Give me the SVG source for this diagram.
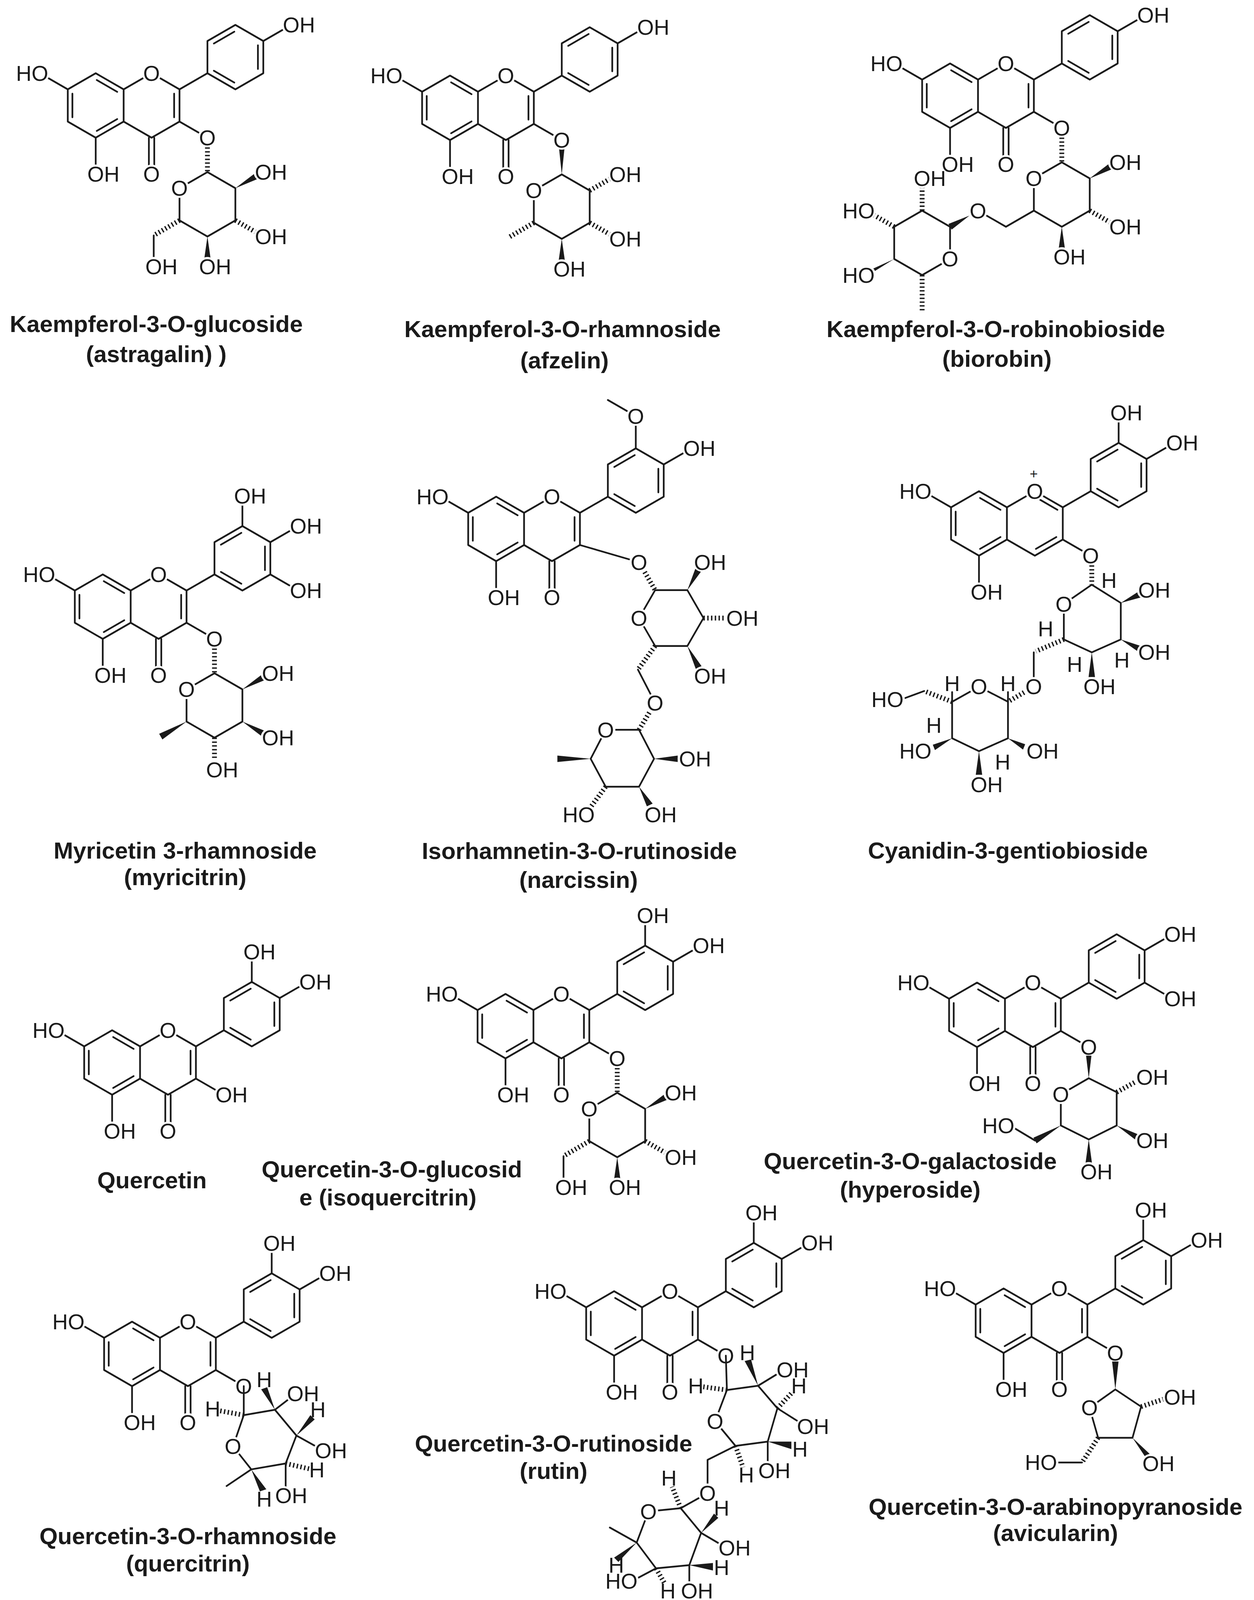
<svg xmlns="http://www.w3.org/2000/svg" xmlns:xlink="http://www.w3.org/1999/xlink" width="3210" height="4138" viewBox="0 0 3210 4138">
<style>
.b{fill:none;stroke:#1a1a1a;stroke-width:1.6;stroke-linecap:round;stroke-linejoin:round}
.h{fill:none;stroke:#1a1a1a;stroke-width:4.5;stroke-dasharray:1.3 2.2}
.w{fill:#1a1a1a}
.bg{fill:#fff}
.a{font-family:"Liberation Sans",Arial,sans-serif;font-size:20px;fill:#1a1a1a}
.m{text-anchor:middle}
.e{text-anchor:end}
.L{font-family:"Liberation Sans",Arial,sans-serif;font-size:60px;font-weight:bold;fill:#1a1a1a;text-anchor:middle}
</style>
<defs>
<g id="ringA">
<path class="b" d="M0,-30 L26,-15 L26,15 L0,30 L-26,15 L-26,-15 Z M-21.7,-11 V11 M1,-23.7 L20,-12.7 M20,12.7 L1,23.7"/>
<path class="b" d="M78,-15 L104,-30 M130,-75 L156,-60 L156,-30 L130,-15 L104,-30 L104,-60 Z M151,-56 V-34 M110,-57.7 L129,-68.7 M110,-32.3 L129,-21.3"/>
</g>
<g id="core">
<use xlink:href="#ringA" href="#ringA"/>
<path class="b" d="M26,-15 L52,-30 L78,-15 L78,15 L52,30 L26,15 M73,-11 V11 M49.5,30 V56 M54.5,30 V56"/>
<circle class="bg" cx="52" cy="-30" r="9"/><circle class="bg" cx="52" cy="64" r="9"/>
</g>
<g id="coreC">
<use xlink:href="#ringA" href="#ringA"/>
<path class="b" d="M26,-15 L52,-30 L78,-15 L78,15 L52,30 L26,15 M57,-22 L73,-12.7 M72,12.7 L53,23.7"/>
<circle class="bg" cx="52" cy="-30" r="9"/>
</g>
<g id="subs">
<path class="b" d="M-26,-15 L-52,-30 M0,30 V64 M156,-60 L182,-75 M78,15 L104,30"/>
<g class="bg"><circle cx="-52" cy="-30" r="9"/><circle cx="0" cy="64" r="9"/><circle cx="182" cy="-75" r="9"/><circle cx="104" cy="30" r="9"/></g>
</g>
<g id="q3">
<path class="b" d="M130,-75 V-103"/><circle class="bg" cx="130" cy="-103" r="9"/>
</g>
<g id="glc">
<path class="b" d="M104,62 L130,77 L130,107 L104,122 L78,107 L78,77 Z M54,121 V142"/>
<path class="h" d="M104,39 V62 M130,107 L150,118.5 M78,107 L54,121"/>
<polygon class="w" points="130,77 151.5,68.1 148.5,62.9"/>
<polygon class="w" points="104,122 107,143 101,143"/>
<g class="bg"><circle cx="78" cy="77" r="9"/><circle cx="156" cy="62" r="9"/><circle cx="156" cy="122" r="9"/><circle cx="104" cy="150" r="9"/><circle cx="54" cy="150" r="9"/></g>
</g>
</defs>

<g id="m1" transform="translate(245,270) scale(2.75)">
<use href="#core"/><use href="#subs"/><use href="#glc"/>
<text class="a m" x="52" y="-23">O</text><text class="a m" x="52" y="71">O</text>
<text class="a e" x="-44.2" y="-23">HO</text><text class="a" x="-7.8" y="71">OH</text>
<text class="a" x="174.2" y="-68">OH</text><text class="a m" x="104" y="37">O</text>
<text class="a m" x="78" y="84">O</text><text class="a" x="148.2" y="69">OH</text><text class="a" x="148.2" y="129">OH</text>
<text class="a" x="96.2" y="157">OH</text><text class="a" x="46.2" y="157">OH</text>
</g>

<g id="m2" transform="translate(1152,276) scale(2.75)">
<use href="#core"/><use href="#subs"/>
<path class="b" d="M104,62 L130,77 L130,107 L104,122 L78,107 L78,77 Z"/>
<path class="h" d="M130,77 L150,65.5 M130,107 L150,118.5 M78,107 L54,121"/>
<polygon class="w" points="104,62 101.5,38 106.5,38"/>
<polygon class="w" points="104,122 107,143 101,143"/>
<g class="bg"><circle cx="78" cy="77" r="9"/><circle cx="156" cy="62" r="9"/><circle cx="156" cy="122" r="9"/><circle cx="104" cy="150" r="9"/><circle cx="104" cy="30" r="9"/></g>
<text class="a m" x="52" y="-23">O</text><text class="a m" x="52" y="71">O</text>
<text class="a e" x="-44.2" y="-23">HO</text><text class="a" x="-7.8" y="71">OH</text>
<text class="a" x="174.2" y="-68">OH</text><text class="a m" x="104" y="37">O</text>
<text class="a m" x="78" y="84">O</text><text class="a" x="148.2" y="69">OH</text><text class="a" x="148.2" y="129">OH</text>
<text class="a" x="96.2" y="157">OH</text>
</g>

<g id="m3" transform="translate(2432,245) scale(2.75)">
<use href="#core"/><use href="#subs"/>
<path class="b" d="M104,62 L130,77 L130,107 L104,122 L78,107 L78,77 Z M78,107 L52,122 L26,107"/>
<path class="h" d="M104,39 V62 M130,107 L150,118.5"/>
<polygon class="w" points="130,77 151.5,68.1 148.5,62.9"/>
<polygon class="w" points="104,122 107,143 101,143"/>
<polygon class="w" points="18,111.6 1.5,124.6 -1.5,119.4"/>
<path class="b" d="M0,122 L0,152 L-26,167 L-52,152 L-52,122 L-26,107 Z"/>
<path class="h" d="M-26,107 V84 M-52,122 L-72,110.5 M-26,167 V200"/>
<polygon class="w" points="-52,152 -72.5,161.4 -75.5,166.6"/>
<g class="bg"><circle cx="78" cy="77" r="9"/><circle cx="156" cy="62" r="9"/><circle cx="156" cy="122" r="9"/><circle cx="104" cy="150" r="9"/><circle cx="26" cy="107" r="9"/><circle cx="0" cy="152" r="9"/><circle cx="-26" cy="77" r="9"/><circle cx="-78" cy="107" r="9"/><circle cx="-78" cy="167" r="9"/></g>
<text class="a m" x="52" y="-23">O</text><text class="a m" x="52" y="71">O</text>
<text class="a e" x="-44.2" y="-23">HO</text><text class="a" x="-7.8" y="71">OH</text>
<text class="a" x="174.2" y="-68">OH</text><text class="a m" x="104" y="37">O</text>
<text class="a m" x="78" y="84">O</text><text class="a" x="148.2" y="69">OH</text><text class="a" x="148.2" y="129">OH</text>
<text class="a" x="96.2" y="157">OH</text><text class="a m" x="26" y="114">O</text><text class="a m" x="0" y="159">O</text>
<text class="a" x="-33.8" y="84">OH</text><text class="a e" x="-70.2" y="114">HO</text><text class="a e" x="-70.2" y="174">HO</text>
</g>

<g id="m4" transform="translate(263,1553) scale(2.75)">
<use href="#core"/><use href="#subs"/><use href="#q3"/>
<path class="b" d="M156,-30 L182,-15 M104,62 L130,77 L130,107 L104,122 L78,107 L78,77 Z"/>
<path class="h" d="M104,39 V62 M104,122 V143"/>
<polygon class="w" points="130,77 151.5,68.1 148.5,62.9"/>
<polygon class="w" points="130,107 148.5,121.1 151.5,115.9"/>
<polygon class="w" points="78,107 52.5,118.4 55.5,123.6"/>
<g class="bg"><circle cx="182" cy="-15" r="9"/><circle cx="78" cy="77" r="9"/><circle cx="156" cy="62" r="9"/><circle cx="156" cy="122" r="9"/><circle cx="104" cy="152" r="9"/></g>
<text class="a m" x="52" y="-23">O</text><text class="a m" x="52" y="71">O</text>
<text class="a e" x="-44.2" y="-23">HO</text><text class="a" x="-7.8" y="71">OH</text>
<text class="a" x="174.2" y="-68">OH</text><text class="a" x="122.2" y="-96">OH</text><text class="a" x="174.2" y="-8">OH</text>
<text class="a m" x="104" y="37">O</text>
<text class="a m" x="78" y="84">O</text><text class="a" x="148.2" y="69">OH</text><text class="a" x="148.2" y="129">OH</text>
<text class="a" x="96.2" y="159">OH</text>
</g>

<g id="m5" transform="translate(1270,1354) scale(2.75)">
<use href="#core"/>
<path class="b" d="M-26,-15 L-52,-30 M0,30 V64 M156,-60 L182,-75 M78,15 L133,31 M130,-75 V-105 L104,-120"/>
<path class="b" d="M148,57 L178,57 L193,83 L178,109 L148,109 L133,83 Z M132,131 L148,162"/>
<path class="h" d="M133,31 L148,57 M193,83 L213,83 M148,109 L132,131 M148,162 L133,187"/>
<polygon class="w" points="178,57 190.6,39.9 185.4,37.1"/>
<polygon class="w" points="178,109 185.8,130.3 191.2,127.7"/>
<path class="b" d="M133,187 L102,187 L88,214 L102,240 L133,240 L147,214 Z"/>
<path class="h" d="M102,240 L88,259"/>
<polygon class="w" points="88,214 57,211 57,217"/>
<polygon class="w" points="133,240 140.3,258.3 145.7,255.7"/>
<polygon class="w" points="147,214 169,211 169,217"/>
<g class="bg"><circle cx="-52" cy="-30" r="9"/><circle cx="0" cy="64" r="9"/><circle cx="182" cy="-75" r="9"/><circle cx="130" cy="-105" r="9"/><circle cx="133" cy="31" r="9"/><circle cx="133" cy="83" r="9"/><circle cx="192" cy="31" r="9"/><circle cx="222" cy="83" r="9"/><circle cx="192" cy="137" r="9"/><circle cx="148" cy="162" r="9"/><circle cx="102" cy="187" r="9"/><circle cx="84" cy="266" r="9"/><circle cx="146" cy="266" r="9"/><circle cx="178" cy="214" r="9"/></g>
<text class="a m" x="52" y="-23">O</text><text class="a m" x="52" y="71">O</text>
<text class="a e" x="-44.2" y="-23">HO</text><text class="a" x="-7.8" y="71">OH</text>
<text class="a" x="174.2" y="-68">OH</text><text class="a m" x="130" y="-98">O</text>
<text class="a m" x="133" y="38">O</text><text class="a m" x="133" y="90">O</text>
<text class="a" x="184.2" y="38">OH</text><text class="a" x="214.2" y="90">OH</text><text class="a" x="184.2" y="144">OH</text>
<text class="a m" x="148" y="169">O</text><text class="a m" x="102" y="194">O</text>
<text class="a e" x="91.8" y="273">HO</text><text class="a" x="138.2" y="273">OH</text><text class="a" x="170.2" y="221">OH</text>
</g>

<g id="m6" transform="translate(2506,1340) scale(2.75)">
<use href="#coreC"/><use href="#subs"/><use href="#q3"/>
<path class="b" d="M105,57 L132,74 L132,108 L105,120 L79,108 L79,75 Z M51,120 V152 M27,166 L0,152 L-25,166 L-25,200 L0,212 L27,200 Z M27,166 V157 M-25,166 V157 M-51,156 L-70,163"/>
<path class="h" d="M105,39 V57 M79,108 L53,119 M51,152 L27,166 M-25,166 L-51,156"/>
<polygon class="w" points="132,74 148.5,63.4 151.5,68.6"/>
<polygon class="w" points="132,108 148.5,119.6 151.5,114.4"/>
<polygon class="w" points="105,120 102,143 108,143"/>
<polygon class="w" points="-25,200 -43,206 -41,211"/>
<polygon class="w" points="0,212 -3,234 3,234"/>
<polygon class="w" points="27,200 43,205.5 41,210.5"/>
<g class="bg"><circle cx="79" cy="75" r="9"/><circle cx="156" cy="62" r="9"/><circle cx="156" cy="120" r="9"/><circle cx="105" cy="152" r="9"/><circle cx="51" cy="152" r="9"/><circle cx="0" cy="152" r="9"/><circle cx="-78" cy="164" r="9"/><circle cx="-52" cy="212" r="9"/><circle cx="0" cy="243" r="9"/><circle cx="52" cy="212" r="9"/></g>
<text class="a m" x="52" y="-23">O</text><text class="a m" x="51" y="-42" style="font-size:13px">+</text>
<text class="a e" x="-44.2" y="-23">HO</text><text class="a" x="-7.8" y="71">OH</text>
<text class="a" x="174.2" y="-68">OH</text><text class="a" x="122.2" y="-96">OH</text><text class="a m" x="104" y="37">O</text>
<text class="a m" x="79" y="82">O</text><text class="a m" x="121" y="60">H</text>
<text class="a" x="148.2" y="69">OH</text><text class="a" x="148.2" y="127">OH</text><text class="a m" x="133" y="134">H</text>
<text class="a" x="97.2" y="159">OH</text><text class="a m" x="89" y="138">H</text><text class="a m" x="62" y="105">H</text>
<text class="a m" x="51" y="159">O</text><text class="a m" x="0" y="159">O</text>
<text class="a m" x="27" y="156">H</text><text class="a m" x="-25" y="156">H</text>
<text class="a e" x="-70.2" y="171">HO</text><text class="a m" x="-42" y="195">H</text>
<text class="a e" x="-44.2" y="219">HO</text><text class="a" x="-7.8" y="250">OH</text><text class="a m" x="22" y="229">H</text>
<text class="a" x="44.2" y="219">OH</text>
</g>

<g id="m7" transform="translate(287,2720) scale(2.75)">
<use href="#core"/><use href="#subs"/><use href="#q3"/>
<text class="a m" x="52" y="-23">O</text><text class="a m" x="52" y="71">O</text>
<text class="a e" x="-44.2" y="-23">HO</text><text class="a" x="-7.8" y="71">OH</text>
<text class="a" x="174.2" y="-68">OH</text><text class="a" x="122.2" y="-96">OH</text>
<text class="a" x="96.2" y="37">OH</text>
</g>

<g id="m8" transform="translate(1294,2627) scale(2.75)">
<use href="#core"/><use href="#subs"/><use href="#q3"/><use href="#glc"/>
<text class="a m" x="52" y="-23">O</text><text class="a m" x="52" y="71">O</text>
<text class="a e" x="-44.2" y="-23">HO</text><text class="a" x="-7.8" y="71">OH</text>
<text class="a" x="174.2" y="-68">OH</text><text class="a" x="122.2" y="-96">OH</text><text class="a m" x="104" y="37">O</text>
<text class="a m" x="78" y="84">O</text><text class="a" x="148.2" y="69">OH</text><text class="a" x="148.2" y="129">OH</text>
<text class="a" x="96.2" y="157">OH</text><text class="a" x="46.2" y="157">OH</text>
</g>

<g id="m9" transform="translate(2501,2598) scale(2.75)">
<use href="#core"/><use href="#subs"/>
<path class="b" d="M156,-30 L182,-15 M104,59 L130,72 L130,103 L104,116 L78,103 L78,74 Z M54,117 L34,105"/>
<path class="h" d="M130,72 L150,61"/>
<polygon class="w" points="104,59 101.5,38 106.5,38"/>
<polygon class="w" points="130,103 148.5,117.1 151.5,111.9"/>
<polygon class="w" points="104,116 107,138 101,138"/>
<polygon class="w" points="78,103 52.5,114.4 55.5,119.6"/>
<g class="bg"><circle cx="182" cy="-15" r="9"/><circle cx="78" cy="74" r="9"/><circle cx="156" cy="58" r="9"/><circle cx="156" cy="117" r="9"/><circle cx="104" cy="146" r="9"/><circle cx="27" cy="103" r="9"/></g>
<text class="a m" x="52" y="-23">O</text><text class="a m" x="52" y="71">O</text>
<text class="a e" x="-44.2" y="-23">HO</text><text class="a" x="-7.8" y="71">OH</text>
<text class="a" x="174.2" y="-68">OH</text><text class="a" x="174.2" y="-8">OH</text><text class="a m" x="104" y="37">O</text>
<text class="a m" x="78" y="81">O</text><text class="a" x="148.2" y="65">OH</text><text class="a" x="148.2" y="124">OH</text>
<text class="a" x="96.2" y="153">OH</text><text class="a e" x="34.8" y="110">HO</text>
</g>

<g id="m10" transform="translate(338,3466) scale(2.75)">
<use href="#core"/><use href="#subs"/><use href="#q3"/>
<path class="b" d="M104,30 V57 M104,57 L133,52 L153,76 L143,102 L111,107.5 L94,86 Z M133,52 L146,42 M153,76 L171,86 M143,102 V124 M111,107.5 L88,123"/>
<path class="h" d="M104,57 L82,53 M143,102 L165,107"/>
<polygon class="w" points="133,52 125.8,31 120.2,33"/>
<polygon class="w" points="153,76 166,57 170,61"/>
<polygon class="w" points="111,107.5 119,128 125,126"/>
<g class="bg"><circle cx="94" cy="86" r="9"/><circle cx="152" cy="37" r="9"/><circle cx="178" cy="90" r="9"/><circle cx="141" cy="132" r="9"/></g>
<text class="a m" x="52" y="-23">O</text><text class="a m" x="52" y="71">O</text>
<text class="a e" x="-44.2" y="-23">HO</text><text class="a" x="-7.8" y="71">OH</text>
<text class="a" x="174.2" y="-68">OH</text><text class="a" x="122.2" y="-96">OH</text><text class="a m" x="104" y="37">O</text>
<text class="a m" x="94" y="93">O</text><text class="a m" x="75" y="58">H</text><text class="a m" x="123" y="31">H</text>
<text class="a" x="144.2" y="44">OH</text><text class="a m" x="173" y="59">H</text><text class="a" x="170.2" y="97">OH</text>
<text class="a m" x="172" y="115">H</text><text class="a" x="133.2" y="139">OH</text><text class="a m" x="123" y="142">H</text>
</g>

<g id="m11" transform="translate(1572,3388) scale(2.75)">
<use href="#core"/><use href="#subs"/><use href="#q3"/>
<path class="b" d="M104,30 L105,62 M105,62 L134,58 L152,79 L143,110 L113,114 L94,91 Z M134,58 L152,47 M152,79 L171,91 M143,110 V129 M113,114 L87,127 L87,150 M87,158 L62,172 M62,172 L32,175 L21,204 L39,228 L70,225 L81,195 Z M21,204 L-4,190 M39,228 L22,237 M70,225 V242 M81,195 L98,205"/>
<path class="h" d="M105,62 L83,59 M152,79 L166,64 M113,114 L120,134 M62,172 L54,152 M39,228 L47,242"/>
<polygon class="w" points="134,58 121.5,35 127.5,33.5"/>
<polygon class="w" points="143,110 165,110 165,117"/>
<polygon class="w" points="21,204 0,218 4,222"/>
<polygon class="w" points="70,225 92,223 92,230"/>
<polygon class="w" points="81,195 93,177 97,181"/>
<g class="bg"><circle cx="94" cy="91" r="9"/><circle cx="159" cy="43" r="9"/><circle cx="178" cy="96" r="9"/><circle cx="142" cy="137" r="9"/><circle cx="87" cy="158" r="9"/><circle cx="32" cy="175" r="9"/><circle cx="14" cy="240" r="9"/><circle cx="70" cy="249" r="9"/><circle cx="105" cy="209" r="9"/></g>
<text class="a m" x="52" y="-23">O</text><text class="a m" x="52" y="71">O</text>
<text class="a e" x="-44.2" y="-23">HO</text><text class="a" x="-7.8" y="71">OH</text>
<text class="a" x="174.2" y="-68">OH</text><text class="a" x="122.2" y="-96">OH</text><text class="a m" x="104" y="37">O</text>
<text class="a m" x="94" y="98">O</text><text class="a m" x="76" y="65">H</text><text class="a m" x="124" y="34">H</text>
<text class="a" x="151.2" y="50">OH</text><text class="a m" x="172" y="65">H</text><text class="a" x="170.2" y="103">OH</text>
<text class="a m" x="173" y="124">H</text><text class="a" x="134.2" y="144">OH</text><text class="a m" x="123" y="148">H</text>
<text class="a m" x="87" y="165">O</text><text class="a m" x="51" y="151">H</text><text class="a m" x="32" y="182">O</text>
<text class="a m" x="2" y="232">H</text><text class="a e" x="21.8" y="247">HO</text><text class="a m" x="50" y="256">H</text>
<text class="a m" x="100" y="234">H</text><text class="a" x="62.2" y="256">OH</text>
<text class="a m" x="100" y="179">H</text><text class="a" x="97.2" y="216">OH</text>
</g>

<g id="m12" transform="translate(2569,3381) scale(2.75)">
<use href="#core"/><use href="#subs"/><use href="#q3"/>
<path class="b" d="M104,64 L128,80 L120,109 L88,109 L80,81 Z M73,132 L50,132"/>
<path class="h" d="M128,80 L149,73 M88,109 L73,132"/>
<polygon class="w" points="101,38 107,38 104,64"/>
<polygon class="w" points="120,109 132,127 136,124"/>
<g class="bg"><circle cx="80" cy="81" r="9"/><circle cx="157" cy="71" r="9"/><circle cx="137" cy="133" r="9"/><circle cx="42" cy="132" r="9"/></g>
<text class="a m" x="52" y="-23">O</text><text class="a m" x="52" y="71">O</text>
<text class="a e" x="-44.2" y="-23">HO</text><text class="a" x="-7.8" y="71">OH</text>
<text class="a" x="174.2" y="-68">OH</text><text class="a" x="122.2" y="-96">OH</text><text class="a m" x="104" y="37">O</text>
<text class="a m" x="80" y="88">O</text><text class="a" x="149.2" y="78">OH</text><text class="a" x="129.2" y="140">OH</text>
<text class="a e" x="49.8" y="139">HO</text>
</g>

<g id="labels">
<text class="L" x="400" y="850">Kaempferol-3-O-glucoside</text>
<text class="L" x="400" y="927">(astragalin) )</text>
<text class="L" x="1440" y="863">Kaempferol-3-O-rhamnoside</text>
<text class="L" x="1445" y="943">(afzelin)</text>
<text class="L" x="2549" y="863">Kaempferol-3-O-robinobioside</text>
<text class="L" x="2552" y="939">(biorobin)</text>
<text class="L" x="474" y="2198">Myricetin 3-rhamnoside</text>
<text class="L" x="474" y="2266">(myricitrin)</text>
<text class="L" x="1483" y="2199">Isorhamnetin-3-O-rutinoside</text>
<text class="L" x="1481" y="2273">(narcissin)</text>
<text class="L" x="2580" y="2198">Cyanidin-3-gentiobioside</text>
<text class="L" x="389" y="3042">Quercetin</text>
<text class="L" x="1003" y="3014">Quercetin-3-O-glucosid</text>
<text class="L" x="993" y="3086">e (isoquercitrin)</text>
<text class="L" x="2330" y="2993">Quercetin-3-O-galactoside</text>
<text class="L" x="2330" y="3066">(hyperoside)</text>
<text class="L" x="481" y="3953">Quercetin-3-O-rhamnoside</text>
<text class="L" x="481" y="4023">(quercitrin)</text>
<text class="L" x="1417" y="3716">Quercetin-3-O-rutinoside</text>
<text class="L" x="1417" y="3786">(rutin)</text>
<text class="L" x="2702" y="3878">Quercetin-3-O-arabinopyranoside</text>
<text class="L" x="2702" y="3945">(avicularin)</text>
</g>
</svg>
